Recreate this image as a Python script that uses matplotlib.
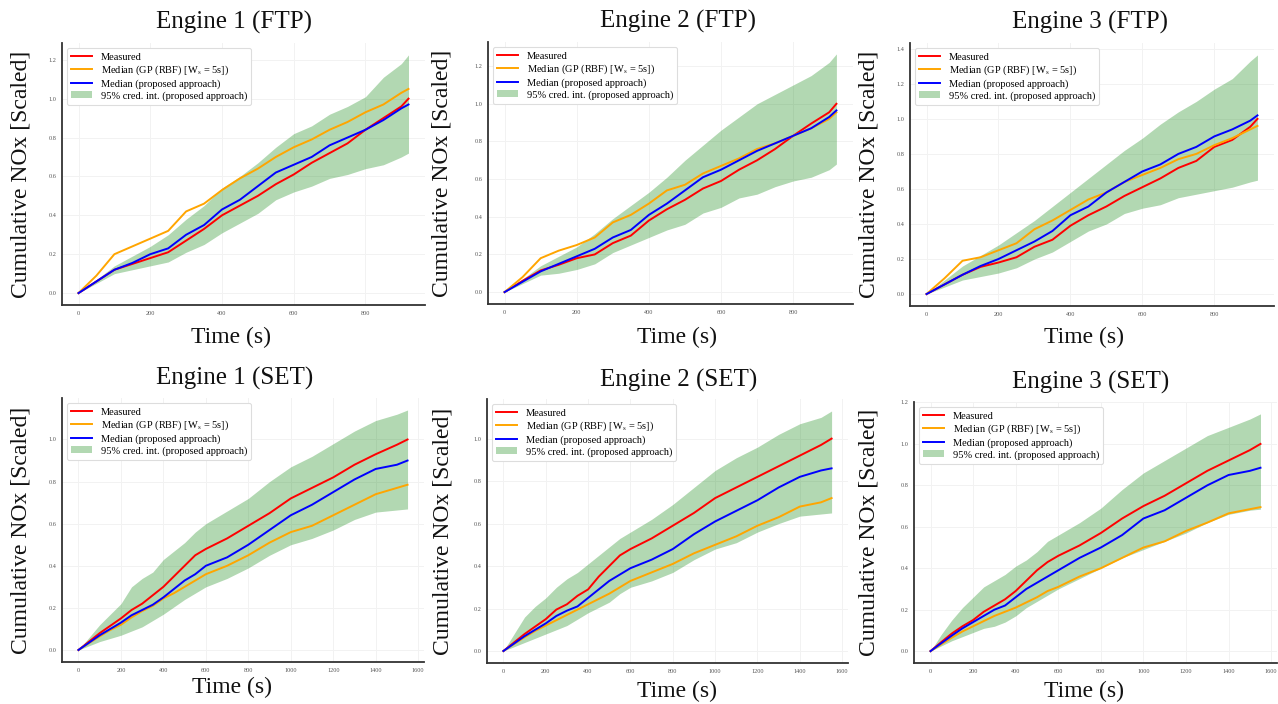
"""Cumulative NOx: measured vs. GP baseline vs. proposed approach, 3 engines x 2 cycles."""

import matplotlib

matplotlib.use("Agg")
import matplotlib.pyplot as plt
from matplotlib.ticker import MultipleLocator, FormatStrFormatter

plt.rcParams["font.family"] = "serif"
plt.rcParams["font.serif"] = ["Liberation Serif", "DejaVu Serif"]
plt.rcParams["mathtext.fontset"] = "stix"

# ---- data ----
T_FTP = [0, 50, 100, 150, 200, 250, 300, 350, 400, 450, 500, 550, 600, 650, 700,
         750, 800, 850, 900, 920]
T_SET = [0, 50, 100, 150, 200, 250, 300, 350, 400, 450, 500, 550, 600, 700, 800,
         900, 1000, 1100, 1200, 1300, 1400, 1500, 1550]

# Engine 1 (FTP)
E1_FTP_MEAS = [0, 0.06, 0.12, 0.15, 0.18, 0.21, 0.27, 0.33, 0.40, 0.45, 0.50, 0.56, 0.61,
               0.67, 0.72, 0.77, 0.84, 0.90, 0.96, 1.00]
E1_FTP_GP = [0, 0.09, 0.20, 0.24, 0.28, 0.32, 0.42, 0.46, 0.53, 0.59, 0.64, 0.70, 0.75,
             0.79, 0.84, 0.88, 0.93, 0.97, 1.03, 1.05]
E1_FTP_MED = [0, 0.06, 0.12, 0.155, 0.20, 0.23, 0.30, 0.35, 0.43, 0.48, 0.55, 0.62, 0.66,
              0.70, 0.76, 0.80, 0.84, 0.89, 0.95, 0.97]
E1_FTP_HI = [0, 0.07, 0.14, 0.19, 0.24, 0.30, 0.38, 0.45, 0.54, 0.60, 0.67, 0.75, 0.82,
             0.86, 0.92, 0.96, 1.01, 1.11, 1.18, 1.225]
E1_FTP_LO = [0, 0.05, 0.10, 0.12, 0.14, 0.16, 0.21, 0.25, 0.31, 0.36, 0.41, 0.48, 0.52,
             0.55, 0.59, 0.61, 0.64, 0.66, 0.70, 0.72]

# Engine 2 (FTP)
E2_FTP_MEAS = [0, 0.06, 0.115, 0.145, 0.18, 0.20, 0.26, 0.30, 0.38, 0.44, 0.49, 0.55, 0.59,
               0.65, 0.70, 0.76, 0.83, 0.895, 0.955, 1.00]
E2_FTP_GP = [0, 0.08, 0.18, 0.22, 0.25, 0.29, 0.37, 0.41, 0.47, 0.54, 0.57, 0.63, 0.67,
             0.71, 0.76, 0.79, 0.83, 0.87, 0.92, 0.955]
E2_FTP_MED = [0, 0.055, 0.11, 0.15, 0.19, 0.23, 0.29, 0.33, 0.41, 0.47, 0.54, 0.61, 0.65,
              0.70, 0.75, 0.79, 0.83, 0.87, 0.93, 0.965]
E2_FTP_HI = [0, 0.07, 0.14, 0.19, 0.24, 0.31, 0.39, 0.46, 0.53, 0.61, 0.70, 0.78, 0.86,
             0.93, 1.00, 1.05, 1.10, 1.15, 1.22, 1.265]
E2_FTP_LO = [0, 0.045, 0.09, 0.10, 0.12, 0.15, 0.21, 0.25, 0.29, 0.33, 0.36, 0.42, 0.45,
             0.50, 0.52, 0.56, 0.59, 0.61, 0.65, 0.68]

# Engine 3 (FTP)
E3_FTP_MEAS = [0, 0.055, 0.11, 0.155, 0.18, 0.21, 0.27, 0.31, 0.39, 0.45, 0.50, 0.56, 0.61,
               0.66, 0.72, 0.76, 0.84, 0.88, 0.955, 1.00]
E3_FTP_GP = [0, 0.09, 0.19, 0.21, 0.25, 0.29, 0.37, 0.42, 0.48, 0.54, 0.58, 0.64, 0.68,
             0.72, 0.77, 0.80, 0.85, 0.89, 0.94, 0.96]
E3_FTP_MED = [0, 0.055, 0.11, 0.16, 0.20, 0.25, 0.30, 0.36, 0.45, 0.50, 0.58, 0.64, 0.70,
              0.74, 0.80, 0.84, 0.90, 0.94, 0.99, 1.02]
E3_FTP_HI = [0, 0.08, 0.16, 0.22, 0.28, 0.35, 0.42, 0.50, 0.58, 0.66, 0.74, 0.82, 0.89,
             0.97, 1.04, 1.10, 1.17, 1.23, 1.33, 1.365]
E3_FTP_LO = [0, 0.04, 0.08, 0.10, 0.12, 0.15, 0.20, 0.24, 0.30, 0.36, 0.40, 0.46, 0.49,
             0.51, 0.55, 0.57, 0.59, 0.61, 0.64, 0.65]

# Engine 1 (SET)
E1_SET_MEAS = [0, 0.04, 0.08, 0.115, 0.15, 0.19, 0.22, 0.26, 0.30, 0.35, 0.40, 0.45, 0.48,
               0.53, 0.59, 0.65, 0.72, 0.77, 0.82, 0.88, 0.93, 0.975, 1.00]
E1_SET_GP = [0, 0.033, 0.065, 0.095, 0.12, 0.155, 0.185, 0.21, 0.245, 0.27, 0.30, 0.33, 0.36,
             0.40, 0.45, 0.51, 0.56, 0.59, 0.64, 0.69, 0.74, 0.77, 0.785]
E1_SET_MED = [0, 0.035, 0.07, 0.10, 0.13, 0.165, 0.19, 0.215, 0.25, 0.29, 0.33, 0.36, 0.40,
              0.44, 0.50, 0.57, 0.64, 0.69, 0.75, 0.81, 0.86, 0.88, 0.90]
E1_SET_HI = [0, 0.06, 0.12, 0.17, 0.22, 0.30, 0.34, 0.37, 0.43, 0.47, 0.51, 0.56, 0.60,
             0.66, 0.72, 0.80, 0.87, 0.92, 0.98, 1.04, 1.09, 1.12, 1.14]
E1_SET_LO = [0, 0.02, 0.04, 0.055, 0.07, 0.09, 0.11, 0.14, 0.17, 0.205, 0.24, 0.27, 0.30,
             0.34, 0.39, 0.45, 0.50, 0.53, 0.57, 0.62, 0.655, 0.665, 0.67]

# Engine 2 (SET)
E2_SET_MEAS = [0, 0.04, 0.08, 0.115, 0.15, 0.195, 0.22, 0.26, 0.29, 0.35, 0.40, 0.45, 0.48,
               0.53, 0.59, 0.65, 0.72, 0.77, 0.82, 0.87, 0.92, 0.97, 1.00]
E2_SET_GP = [0, 0.033, 0.065, 0.095, 0.12, 0.145, 0.17, 0.195, 0.22, 0.245, 0.27, 0.30, 0.33,
             0.37, 0.41, 0.46, 0.50, 0.54, 0.59, 0.63, 0.68, 0.70, 0.72]
E2_SET_MED = [0, 0.035, 0.07, 0.10, 0.13, 0.165, 0.19, 0.21, 0.25, 0.29, 0.33, 0.36, 0.39,
              0.43, 0.48, 0.55, 0.61, 0.66, 0.71, 0.77, 0.82, 0.85, 0.86]
E2_SET_HI = [0, 0.08, 0.16, 0.21, 0.25, 0.30, 0.34, 0.37, 0.41, 0.45, 0.49, 0.53, 0.56,
             0.62, 0.69, 0.77, 0.85, 0.91, 0.96, 1.02, 1.07, 1.10, 1.13]
E2_SET_LO = [0, 0.02, 0.04, 0.06, 0.08, 0.10, 0.12, 0.15, 0.18, 0.205, 0.23, 0.27, 0.30,
             0.33, 0.37, 0.43, 0.48, 0.51, 0.56, 0.60, 0.635, 0.645, 0.65]

# Engine 3 (SET)
E3_SET_MEAS = [0, 0.043, 0.085, 0.12, 0.15, 0.19, 0.22, 0.25, 0.29, 0.34, 0.39, 0.43, 0.46,
               0.51, 0.57, 0.64, 0.70, 0.75, 0.81, 0.87, 0.92, 0.97, 1.00]
E3_SET_GP = [0, 0.033, 0.065, 0.095, 0.12, 0.145, 0.17, 0.19, 0.21, 0.235, 0.26, 0.29, 0.31,
             0.36, 0.40, 0.45, 0.50, 0.53, 0.58, 0.62, 0.665, 0.685, 0.695]
E3_SET_MED = [0, 0.038, 0.075, 0.11, 0.14, 0.17, 0.20, 0.22, 0.26, 0.30, 0.33, 0.36, 0.39,
              0.45, 0.50, 0.56, 0.64, 0.68, 0.74, 0.80, 0.85, 0.87, 0.885]
E3_SET_HI = [0, 0.08, 0.15, 0.21, 0.26, 0.31, 0.34, 0.37, 0.41, 0.44, 0.48, 0.53, 0.56,
             0.62, 0.69, 0.78, 0.86, 0.92, 0.98, 1.04, 1.08, 1.12, 1.145]
E3_SET_LO = [0, 0.025, 0.05, 0.07, 0.09, 0.11, 0.12, 0.14, 0.17, 0.21, 0.24, 0.27, 0.30,
             0.35, 0.40, 0.45, 0.49, 0.53, 0.57, 0.62, 0.66, 0.68, 0.685]

TITLES = ["Engine 1 (FTP)", "Engine 2 (FTP)", "Engine 3 (FTP)",
          "Engine 1 (SET)", "Engine 2 (SET)", "Engine 3 (SET)"]

LABELS = ["Measured", r"Median (GP (RBF) [W$_\mathrm{s}$ = 5s])",
          "Median (proposed approach)", "95% cred. int. (proposed approach)"]

PANELS = [
    (T_FTP, E1_FTP_MEAS, E1_FTP_GP, E1_FTP_MED, E1_FTP_LO, E1_FTP_HI),
    (T_FTP, E2_FTP_MEAS, E2_FTP_GP, E2_FTP_MED, E2_FTP_LO, E2_FTP_HI),
    (T_FTP, E3_FTP_MEAS, E3_FTP_GP, E3_FTP_MED, E3_FTP_LO, E3_FTP_HI),
    (T_SET, E1_SET_MEAS, E1_SET_GP, E1_SET_MED, E1_SET_LO, E1_SET_HI),
    (T_SET, E2_SET_MEAS, E2_SET_GP, E2_SET_MED, E2_SET_LO, E2_SET_HI),
    (T_SET, E3_SET_MEAS, E3_SET_GP, E3_SET_MED, E3_SET_LO, E3_SET_HI),
]

# ---- layout (pixels in the 1278x704 canvas) ----
W, H = 1278, 704
# axes box: left, right, top, bottom
BOXES = [(62, 425, 43, 305), (488, 853, 42, 304), (910, 1274, 43, 306),
         (62, 424, 398, 662), (487, 848, 399, 663), (914, 1277, 402, 663)]
TITLE_XY = [(234, 22), (678, 21), (1090, 22), (235, 378), (679, 380), (1091, 382)]
XLABEL_XY = [(231, 337), (677, 337), (1084, 337), (232, 687), (677, 691), (1084, 691)]
YLABEL_X = [21, 442, 869, 21, 443, 869]


def _to_axes(ax_box, px, py):
    l, r, t, b = ax_box
    return (px - l) / (r - l), (b - py) / (b - t)


def _plot_panel(fig, i):
    l, r, t, b = BOXES[i]
    ax = fig.add_axes([l / W, 1 - b / H, (r - l) / W, (b - t) / H])
    times, meas, gp, med, lo, hi = PANELS[i]

    ax.plot(times, meas, color="red", lw=1.4, label=LABELS[0], zorder=3)
    ax.plot(times, gp, color="orange", lw=1.4, label=LABELS[1], zorder=3)
    ax.plot(times, med, color="blue", lw=1.4, label=LABELS[2], zorder=4)
    ax.fill_between(times, lo, hi, color="green", alpha=0.3, lw=0, label=LABELS[3], zorder=2)

    ax.xaxis.set_major_locator(MultipleLocator(200))
    ax.yaxis.set_major_locator(MultipleLocator(0.2))
    ax.yaxis.set_major_formatter(FormatStrFormatter("%.1f"))
    ax.tick_params(length=0, pad=4, labelsize=4.5, labelcolor="#555555")
    ax.grid(True, color="#f2f2f2", lw=0.7)
    ax.set_axisbelow(True)
    for side in ("top", "right"):
        ax.spines[side].set_visible(False)
    for side in ("left", "bottom"):
        ax.spines[side].set_color("#333333")
        ax.spines[side].set_linewidth(1.3)

    tx, ty = _to_axes(BOXES[i], *TITLE_XY[i])
    ax.text(tx, ty, TITLES[i], transform=ax.transAxes, ha="center", va="center",
            fontsize=18, color="#111111")

    ax.set_xlabel("Time (s)", fontsize=17, color="#111111")
    xx, xy = _to_axes(BOXES[i], *XLABEL_XY[i])
    ax.xaxis.label.set_va("center")
    ax.xaxis.set_label_coords(xx, xy)

    ax.set_ylabel("Cumulative NOx [Scaled]", fontsize=17, color="#111111")
    yx, _ = _to_axes(BOXES[i], YLABEL_X[i], 0)
    ax.yaxis.label.set_va("center")
    ax.yaxis.set_label_coords(yx, 0.5)

    leg = ax.legend(loc="upper left", fontsize=7.5, labelspacing=0.2, borderpad=0.4,
                    fancybox=True, framealpha=1.0)
    leg.get_frame().set_edgecolor("#dddddd")
    leg.get_frame().set_linewidth(0.8)


def main():
    fig = plt.figure(figsize=(W / 100, H / 100), dpi=100)
    for i in range(len(PANELS)):
        _plot_panel(fig, i)
    fig.savefig("out.png", dpi=100)
    plt.close(fig)


if __name__ == "__main__":
    main()
